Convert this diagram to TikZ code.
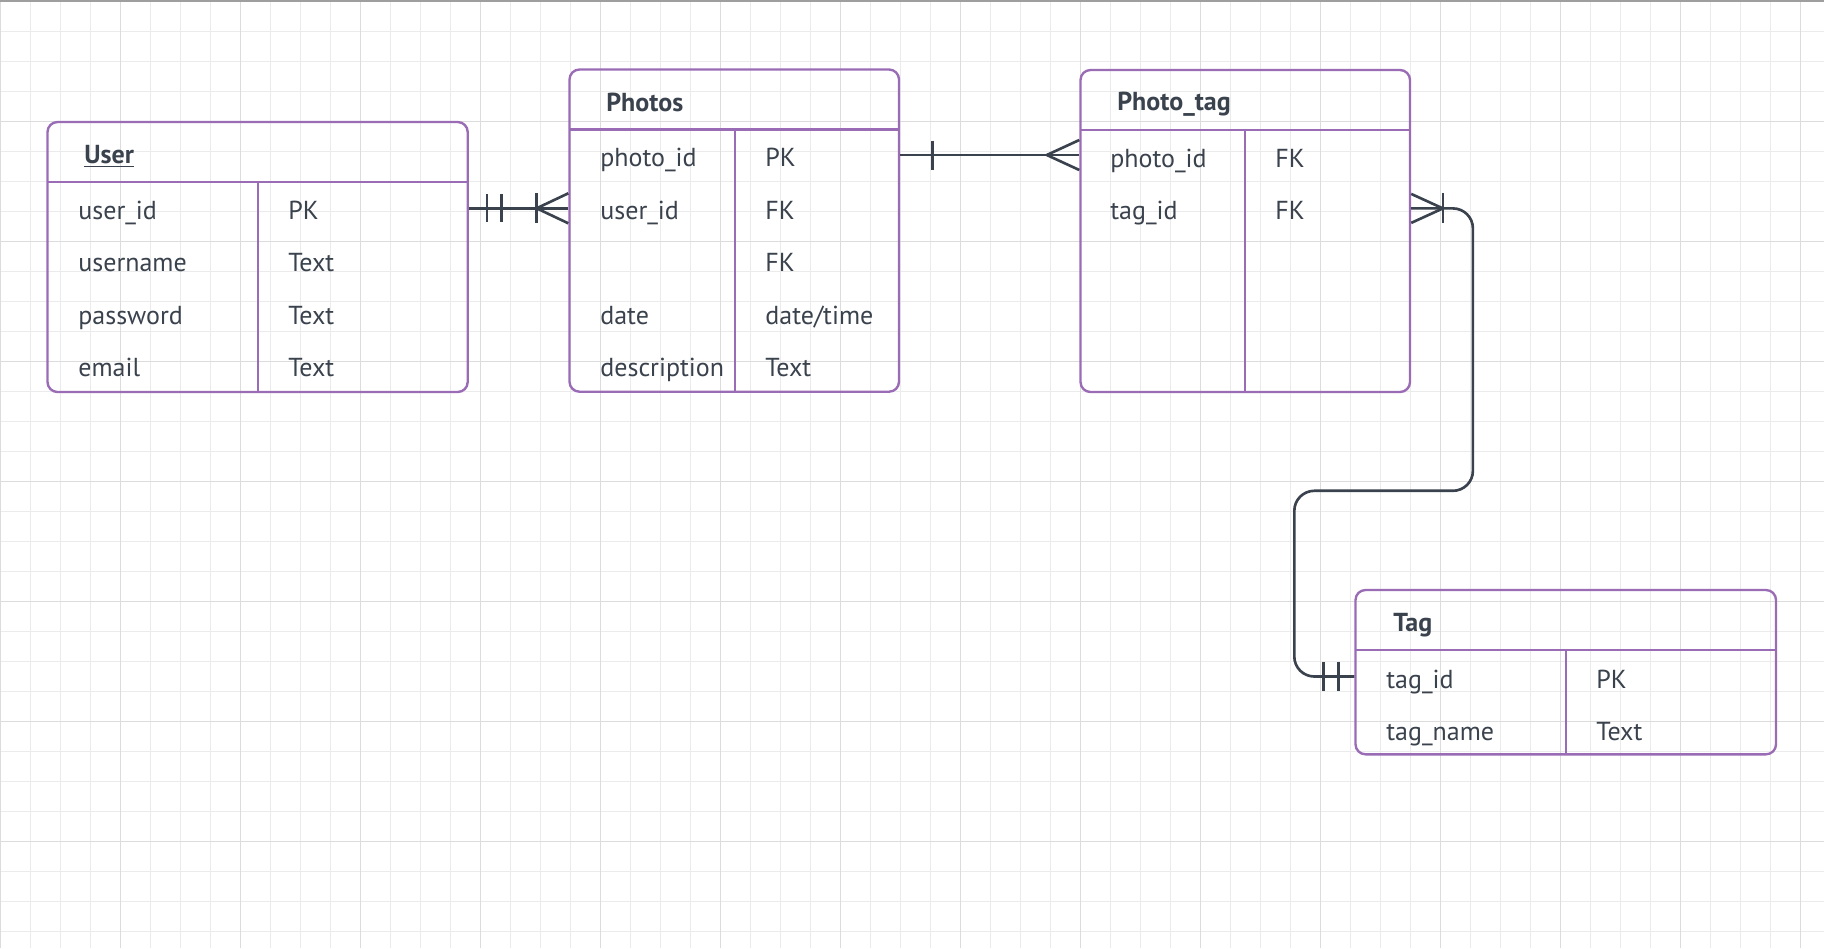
\documentclass[tikz,border=0pt]{standalone}
\usepackage{fontspec}
\setmainfont{PT Sans}
\usetikzlibrary{positioning, fit, calc}
\definecolor{erpurple}{HTML}{9B6CB6}
\definecolor{erink}{HTML}{3A424D}
\definecolor{gridminor}{HTML}{EBEBEB}
\definecolor{gridmajor}{HTML}{DCDCDC}
\definecolor{topbar}{HTML}{9E9E9E}

\begin{document}
\begin{tikzpicture}[x=0.02cm, y=-0.02cm,
  tbl/.style={draw=erpurple, line width=1.35pt, rounded corners=0.2cm, inner sep=0pt},
  sep/.style={draw=erpurple, line width=1.35pt},
  title/.style={anchor=west, font=\bfseries\fontsize{14.8}{17}\selectfont, text=erink, inner sep=0pt},
  field/.style={anchor=west, font=\fontsize{14.8}{17}\selectfont, text=erink, inner sep=0pt,
                text height=1.35em, text depth=0.04em},
  rel/.style={draw=erink, line width=1.5pt},
]
  \useasboundingbox (0,0) rectangle (1824,948);
  \fill[white] (0,0) rectangle (1824,948);

  % background grid
  \foreach \k in {0,...,60}
    \draw[gridminor, line width=0.57pt] (30*\k+0.3,0) -- (30*\k+0.3,948);
  \foreach \k in {0,...,31}
    \draw[gridminor, line width=0.57pt] (0,30*\k+1.3) -- (1824,30*\k+1.3);
  \foreach \k in {0,...,15}
    \draw[gridmajor, line width=0.65pt] (120*\k+0.3,0) -- (120*\k+0.3,948);
  \foreach \k in {0,...,7}
    \draw[gridmajor, line width=0.65pt] (0,120*\k+1.3) -- (1824,120*\k+1.3);
  \fill[topbar] (0,0) rectangle (1824,2.3);

  % User
  \node[tbl, fit={(47.5,122) (467.7,392)}] (user) {};
  \draw[sep] (47.5,181.7) -- (467.7,181.7);
  \draw[sep] (258,181.7) -- (258,392);
  \node[title] (usert) at (84,156) {\underline{User}};
  \node[field] (uid) at (78,208.3) {user\_id};
  \node[field] (uidk) at (288,208.3) {PK};
  \node[field] (uname) at (78,260) {username};
  \node[field] (unamek) at (288,260) {Text};
  \node[field] (upass) at (78,312.6) {password};
  \node[field] (upassk) at (288,312.6) {Text};
  \node[field] (umail) at (78,365) {email};
  \node[field] (umailk) at (288,365) {Text};

  % Photos
  \node[tbl, fit={(569.5,69.5) (899,391.7)}] (photos) {};
  \draw[sep] (569.5,129.5) -- (899,129.5);
  \draw[sep] (735,129.5) -- (735,391.7);
  \node[title] (photost) at (606,102) {Photos};
  \node[field] (pid) at (600,155) {photo\_id};
  \node[field] (pidk) at (765,155) {PK};
  \node[field] (puid) at (600,208.3) {user\_id};
  \node[field] (puidk) at (765,208.3) {FK};
  \node[field] (pfk) at (765,260) {FK};
  \node[field] (pdate) at (600,312.6) {date};
  \node[field] (pdatek) at (765,312.6) {date/time};
  \node[field] (pdesc) at (600,365) {description};
  \node[field] (pdesck) at (765,365) {Text};

  % Photo_tag
  \node[tbl, fit={(1080.5,70) (1410,392)}] (ptag) {};
  \draw[sep] (1080.5,130) -- (1410,130);
  \draw[sep] (1245,130) -- (1245,392);
  \node[title] (ptagt) at (1117,104) {Photo\_tag};
  \node[field] (tpid) at (1110,156) {photo\_id};
  \node[field] (tpidk) at (1275,156) {FK};
  \node[field] (ttid) at (1110,208.4) {tag\_id};
  \node[field] (ttidk) at (1275,208.4) {FK};

  % Tag
  \node[tbl, fit={(1355.5,590) (1776,754.3)}] (tag) {};
  \draw[sep] (1355.5,650) -- (1776,650);
  \draw[sep] (1566,650) -- (1566,754.3);
  \node[title] (tagt) at (1393,625) {Tag};
  \node[field] (gid) at (1386,676.5) {tag\_id};
  \node[field] (gidk) at (1596,676.5) {PK};
  \node[field] (gname) at (1386,728.5) {tag\_name};
  \node[field] (gnamek) at (1596,728.5) {Text};

  % User -- Photos
  \draw[rel] (user.east |- uid) -- (photos.west |- uid);
  \draw[rel] ($(user.east |- uid)+(18,-14)$) -- ++(0,28);
  \draw[rel] ($(user.east |- uid)+(32.5,-14)$) -- ++(0,28);
  \draw[rel] ($(photos.west |- uid)+(-31.7,-15)$) -- ++(0,30);
  \draw[rel] ($(photos.west |- uid)+(-31.7,0)$) -- ++(31.7,-15);
  \draw[rel] ($(photos.west |- uid)+(-31.7,0)$) -- ++(31.7,15);

  % Photos -- Photo_tag
  \draw[rel] (photos.east |- pid) -- (ptag.west |- pid);
  \draw[rel] ($(photos.east |- pid)+(32,-14.5)$) -- ++(0,29);
  \draw[rel] ($(ptag.west |- pid)+(-32.5,0)$) -- ++(32.5,-15);
  \draw[rel] ($(ptag.west |- pid)+(-32.5,0)$) -- ++(32.5,15);

  % Photo_tag -- Tag
  \coordinate (jog) at (1294.3,490.8);
  \draw[rel, rounded corners=0.4cm] (ptag.east |- ttid) -- ++(61.7,0) |- (jog) |- (tag.west |- gid);
  \draw[rel] ($(ptag.east |- ttid)+(31.7,-15)$) -- ++(0,30);
  \draw[rel] ($(ptag.east |- ttid)+(31.7,0)$) -- ++(-31.7,-14.5);
  \draw[rel] ($(ptag.east |- ttid)+(31.7,0)$) -- ++(-31.7,14.5);
  \draw[rel] ($(tag.west |- gid)+(-31,-14.5)$) -- ++(0,29);
  \draw[rel] ($(tag.west |- gid)+(-16,-14.5)$) -- ++(0,29);
\end{tikzpicture}
\end{document}
